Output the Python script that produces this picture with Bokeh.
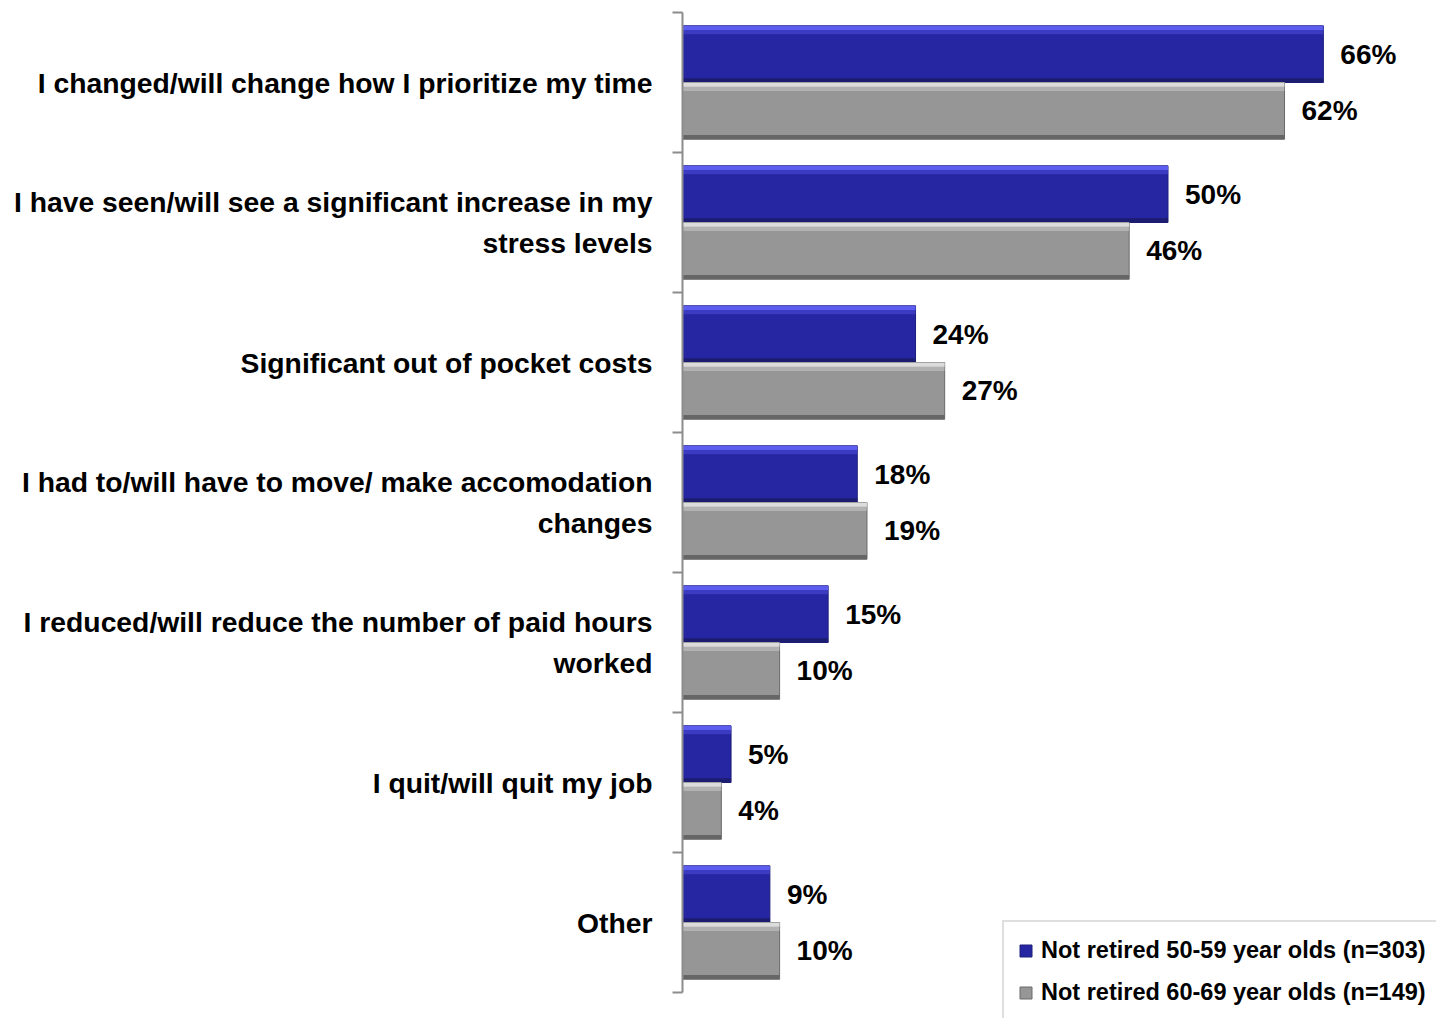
from bokeh.plotting import figure
from bokeh.models import ColumnDataSource, Range1d, Legend, LegendItem
from bokeh.core.properties import value
from bokeh.embed import file_html
from bokeh.resources import INLINE

categories = [
    "I changed/will change how I prioritize my time",
    "I have seen/will see a significant increase in my\nstress levels",
    "Significant out of pocket costs",
    "I had to/will have to move/ make accomodation\nchanges",
    "I reduced/will reduce the number of paid hours\nworked",
    "I quit/will quit my job",
    "Other",
]
series_50_59 = [66, 50, 24, 18, 15, 5, 9]
series_60_69 = [62, 46, 27, 19, 10, 4, 10]
legend_labels = [
    "Not retired 50-59 year olds (n=303)",
    "Not retired 60-69 year olds (n=149)",
]

FONT = "Liberation Sans"
W, H = 1436, 1018
PX_PER_UNIT = 9.71
AXIS_PX = 682
BAND_PX = 140.0
TOP_PX = 12
n = len(categories)
BOTTOM_PX = TOP_PX + n * BAND_PX
centers = [n - 0.5 - i for i in range(n)]
BAR_H = 0.405

p = figure(width=W, height=H, output_backend="svg", toolbar_location=None,
           x_range=Range1d(-AXIS_PX / PX_PER_UNIT, (W - AXIS_PX) / PX_PER_UNIT),
           y_range=Range1d(-(H - BOTTOM_PX) / BAND_PX, n + TOP_PX / BAND_PX),
           min_border=0)
p.xaxis.visible = False
p.yaxis.visible = False
p.grid.visible = False
p.outline_line_color = None
p.background_fill_color = "white"
p.border_fill_color = "white"

blue_y = [c + BAR_H / 2 for c in centers]
gray_y = [c - BAR_H / 2 for c in centers]

src_b = ColumnDataSource(dict(y=blue_y, v=series_50_59, lab=[f"{v}%" for v in series_50_59]))
src_g = ColumnDataSource(dict(y=gray_y, v=series_60_69, lab=[f"{v}%" for v in series_60_69]))

strip = 0.03
def bevel_bar(src, ys, vals, base, light, dark, edge):
    r = p.hbar(y="y", right="v", left=0, height=BAR_H, source=src,
               fill_color=base, line_color=edge, line_width=1)
    p.hbar(y=[y + BAR_H / 2 - strip / 2 for y in ys], right=vals, left=0,
           height=strip, fill_color=light, line_color=None)
    p.hbar(y=[y + BAR_H / 2 - strip * 1.5 for y in ys], right=vals, left=0,
           height=strip, fill_color=light, fill_alpha=0.4, line_color=None)
    p.hbar(y=[y - BAR_H / 2 + strip / 2 for y in ys], right=vals, left=0,
           height=strip, fill_color=dark, line_color=None)
    return r

r_blue = bevel_bar(src_b, blue_y, series_50_59, "#2626a2", "#5c5cef", "#1c1c70", "#1e1e7a")
r_gray = bevel_bar(src_g, gray_y, series_60_69, "#969696", "#dcdcdc", "#666666", "#6a6a6a")

# axis line and ticks at band boundaries
bounds = list(range(n + 1))
p.segment(x0=[0], y0=[0], x1=[0], y1=[n], line_color="#8c8c8c", line_width=2)
p.segment(x0=[-10 / PX_PER_UNIT] * len(bounds), y0=bounds,
          x1=[0] * len(bounds), y1=bounds,
          line_color="#8c8c8c", line_width=2)

# value labels
for src in (src_b, src_g):
    p.text(x="v", y="y", text="lab", source=src, x_offset=17,
           text_align="left", text_baseline="middle",
           text_font=value(FONT), text_font_style="bold",
           text_font_size="28px", text_color="black")

# category labels
p.text(x=[0] * n, y=centers, text=categories, x_offset=-30,
       text_align="right", text_baseline="middle",
       text_font=value(FONT), text_font_style="bold",
       text_font_size="28.3px", text_color="black", text_line_height=1.27)

legend = Legend(items=[LegendItem(label=legend_labels[0], renderers=[r_blue]),
                       LegendItem(label=legend_labels[1], renderers=[r_gray])],
                location=(1002, -4), orientation="vertical",
                glyph_width=15, glyph_height=15, label_height=28,
                label_standoff=8, spacing=14, padding=14, margin=0,
                label_text_font=FONT, label_text_font_style="bold",
                label_text_font_size="23.5px", label_text_color="black",
                border_line_color="#c0c0c0", border_line_width=2,
                background_fill_color="white", background_fill_alpha=1.0)
p.add_layout(legend, "center")

open("out.html", "w").write(file_html(p, INLINE))
